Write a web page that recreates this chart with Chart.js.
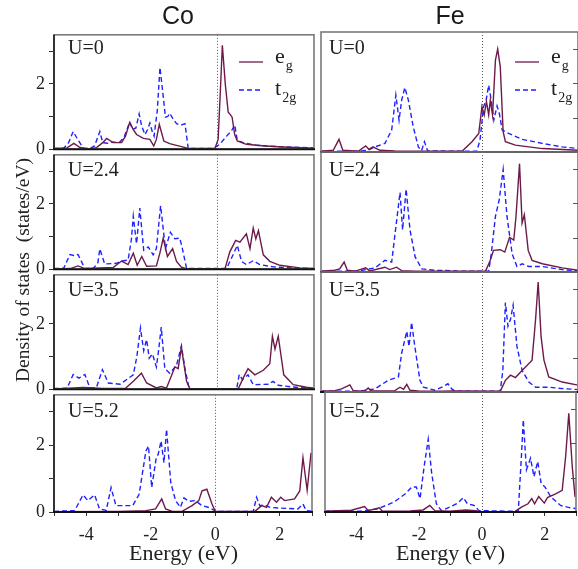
<!DOCTYPE html>
<html><head><meta charset="utf-8">
<script src="https://cdn.jsdelivr.net/npm/chart.js@4/dist/chart.umd.min.js"></script>
<style>
html,body{margin:0;padding:0;background:#fff;width:578px;height:569px;overflow:hidden;position:relative}
canvas{position:absolute}
#txt{position:absolute;left:0;top:0;z-index:5}
</style></head><body>
<svg id="txt" width="578" height="569" xmlns="http://www.w3.org/2000/svg"></svg>
<script>
// ---------- data (energy eV, DOS states/eV) ----------
const columns = ['Co', 'Fe'];
const uLabels = ['U=0', 'U=2.4', 'U=3.5', 'U=5.2'];
const xTickLabels = [-4, -2, 0, 2];
const yTickLabels = [0, 2];
const xRange = [-5, 3];
const yRange = [0, 3.5];

const coU0Eg = [[-5,0.02],[-4.6,0.04],[-4.39,0.18],[-4.2,0.05],[-3.9,0.01],[-3.69,0.05],[-3.5,0.2],[-3.38,0.33],[-3.18,0.2],[-2.92,0.2],[-2.8,0.4],[-2.67,0.82],[-2.56,0.6],[-2.46,0.45],[-2.25,0.33],[-2.05,0.3],[-1.93,0.1],[-1.85,0.3],[-1.76,0.76],[-1.62,0.25],[-1.44,0.17],[-1.08,0.08],[-0.87,0.02],[-0.05,0.02],[0.05,0.3],[0.12,1.8],[0.18,3.18],[0.27,2.0],[0.36,1.13],[0.41,1.08],[0.48,0.98],[0.56,0.45],[0.64,0.25],[0.92,0.15],[1.5,0.1],[2.2,0.06],[3,0.03]];
const coU0T2g = [[-5,0.02],[-4.7,0.03],[-4.55,0.2],[-4.41,0.54],[-4.3,0.35],[-4.1,0.03],[-3.9,0.02],[-3.75,0.1],[-3.59,0.54],[-3.5,0.2],[-3.35,0.18],[-3.2,0.22],[-3.0,0.2],[-2.85,0.35],[-2.67,0.83],[-2.58,0.6],[-2.48,0.65],[-2.38,1.08],[-2.3,0.7],[-2.2,0.45],[-2.12,0.6],[-2.05,0.8],[-1.98,0.55],[-1.92,0.4],[-1.82,1.2],[-1.74,2.5],[-1.66,1.8],[-1.57,0.98],[-1.5,1.0],[-1.44,1.1],[-1.35,0.95],[-1.23,0.78],[-1.15,0.75],[-1.08,0.74],[-0.97,0.78],[-0.87,0.02],[-0.1,0.02],[0.1,0.15],[0.31,0.4],[0.46,0.56],[0.56,0.74],[0.64,0.27],[0.82,0.2],[1.2,0.12],[2,0.07],[3,0.04]];

const coU24Eg = [[-5,0.01],[-4.5,0.02],[-4.26,0.1],[-4.05,0.02],[-3.18,0.05],[-2.92,0.25],[-2.72,0.14],[-2.56,0.49],[-2.44,0.12],[-2.3,0.39],[-2.15,0.09],[-1.85,0.1],[-1.74,0.5],[-1.64,0.95],[-1.51,0.39],[-1.35,0.63],[-1.23,0.24],[-1.08,0.06],[-0.92,0.01],[0.26,0.01],[0.41,0.53],[0.59,0.88],[0.72,0.83],[0.92,1.08],[1.03,0.63],[1.13,1.26],[1.21,0.93],[1.29,1.18],[1.44,0.44],[1.64,0.24],[1.95,0.12],[2.56,0.04],[3,0.02]];
const coU24T2g = [[-5,0.02],[-4.7,0.03],[-4.51,0.45],[-4.39,0.42],[-4.26,0.45],[-4.05,0.02],[-3.79,0.02],[-3.65,0.2],[-3.59,0.62],[-3.44,0.16],[-3.08,0.18],[-2.9,0.25],[-2.72,0.28],[-2.62,0.9],[-2.56,1.62],[-2.46,0.78],[-2.36,1.87],[-2.24,0.58],[-2.1,0.68],[-1.95,0.44],[-1.85,0.63],[-1.72,1.94],[-1.57,0.63],[-1.42,1.13],[-1.28,0.93],[-1.13,0.95],[-1.05,0.63],[-0.92,0.02],[0.31,0.02],[0.51,0.44],[0.64,0.73],[0.77,0.24],[0.92,0.14],[1.13,0.26],[1.33,0.14],[1.74,0.07],[2.5,0.03],[3,0.02]];

const coU35Eg = [[-5,0.01],[-4.1,0.05],[-3.5,0.02],[-2.8,0.03],[-2.56,0.24],[-2.31,0.49],[-2.15,0.19],[-1.85,0.04],[-1.7,0.08],[-1.54,0.03],[-1.28,0.68],[-1.18,0.63],[-1.08,1.28],[-0.92,0.24],[-0.82,0.01],[0.67,0.01],[0.82,0.34],[0.97,0.63],[1.18,0.44],[1.44,0.58],[1.64,0.78],[1.72,1.62],[1.8,1.23],[1.9,1.62],[2.07,0.44],[2.36,0.14],[2.77,0.06],[3,0.03]];
const coU35T2g = [[-5,0.02],[-4.6,0.03],[-4.41,0.45],[-4.23,0.34],[-4.05,0.45],[-3.9,0.05],[-3.7,0.03],[-3.51,0.6],[-3.33,0.19],[-2.97,0.15],[-2.56,0.44],[-2.45,1.0],[-2.34,1.87],[-2.24,1.18],[-2.15,1.52],[-2.07,0.95],[-1.97,1.08],[-1.85,0.68],[-1.78,1.2],[-1.7,1.9],[-1.59,0.63],[-1.44,0.49],[-1.23,0.73],[-1.08,1.33],[-0.97,0.63],[-0.84,0.01],[0.62,0.01],[0.7,0.45],[0.8,0.29],[0.97,0.44],[1.13,0.14],[1.6,0.15],[1.74,0.24],[1.9,0.12],[2.5,0.05],[3,0.02]];

const coU52Eg = [[-5,0.01],[-3,0.02],[-2.15,0.04],[-1.85,0.09],[-1.66,0.39],[-1.54,0.09],[-1.33,0.02],[-1.03,0.02],[-0.72,0.19],[-0.51,0.34],[-0.41,0.63],[-0.26,0.68],[-0.1,0.24],[0,0.02],[1.23,0.02],[1.44,0.19],[1.59,0.14],[1.74,0.44],[1.9,0.29],[2.03,0.44],[2.15,0.34],[2.46,0.39],[2.62,0.63],[2.72,1.62],[2.85,0.65],[2.97,1.77]];
const coU52T2g = [[-5,0.02],[-4.36,0.04],[-4.1,0.51],[-3.95,0.34],[-3.74,0.51],[-3.59,0.09],[-3.38,0.05],[-3.23,0.73],[-3.08,0.19],[-2.56,0.19],[-2.36,0.53],[-2.15,1.82],[-2.07,1.97],[-1.97,0.73],[-1.83,1.62],[-1.77,1.72],[-1.68,2.12],[-1.59,1.47],[-1.51,2.47],[-1.38,0.88],[-1.23,0.34],[-1.08,0.14],[-0.97,0.42],[-0.82,0.32],[-0.62,0.34],[-0.41,0.19],[-0.15,0.12],[0,0.02],[1.18,0.02],[1.28,0.44],[1.38,0.19],[1.54,0.21],[1.69,0.14],[1.95,0.12],[2.56,0.09],[2.72,0.24],[2.82,0.04],[3,0.02]];

const feU0Eg = [[-5,0.02],[-4.62,0.05],[-4.44,0.37],[-4.32,0.05],[-3.84,0.02],[-3.61,0.18],[-3.51,0.08],[-3.38,0.15],[-3.17,0.05],[-2.7,0.03],[-0.61,0.02],[-0.3,0.3],[-0.09,0.54],[0.01,1.32],[0.08,1.08],[0.15,1.47],[0.22,1.08],[0.27,1.51],[0.34,1.08],[0.43,2.68],[0.5,3.0],[0.58,2.49],[0.67,0.59],[0.74,0.3],[1.05,0.2],[1.89,0.1],[3,0.05]];
const feU0T2g = [[-5,0.02],[-3.84,0.02],[-3.53,0.05],[-3.32,0.15],[-3.01,0.25],[-2.8,0.64],[-2.67,1.66],[-2.57,0.93],[-2.49,1.51],[-2.39,1.88],[-2.28,1.51],[-2.13,0.74],[-1.97,0.15],[-1.87,0.04],[-1.78,0.3],[-1.68,0.03],[-0.15,0.02],[-0.05,0.35],[0.06,1.32],[0.14,1.51],[0.22,1.95],[0.3,1.51],[0.38,0.93],[0.48,1.34],[0.55,1.13],[0.64,0.64],[0.84,0.54],[1.26,0.37],[1.89,0.25],[2.51,0.15],[3,0.1]];

const feU24Eg = [[-5,0.02],[-4.57,0.05],[-4.42,0.09],[-4.28,0.29],[-4.18,0.05],[-3.95,0.02],[-3.61,0.12],[-3.48,0.03],[-3.01,0.14],[-2.86,0.07],[-2.65,0.14],[-2.49,0.04],[-2.07,0.02],[0.12,0.02],[0.27,0.34],[0.37,0.63],[0.58,0.65],[0.72,0.58],[0.87,1.01],[1.0,0.93],[1.07,1.62],[1.18,3.16],[1.26,1.43],[1.33,1.67],[1.45,0.63],[1.57,0.34],[1.89,0.24],[2.51,0.12],[3,0.05]];
const feU24T2g = [[-5,0.02],[-3.84,0.03],[-3.32,0.12],[-3.01,0.34],[-2.8,0.29],[-2.68,1.23],[-2.54,2.32],[-2.46,1.23],[-2.35,2.42],[-2.23,1.23],[-2.07,0.44],[-1.86,0.09],[-1.45,0.05],[-0.93,0.04],[-0.72,0.02],[0.22,0.02],[0.3,0.53],[0.43,1.62],[0.55,2.12],[0.67,2.99],[0.79,1.62],[0.95,0.53],[1.1,0.16],[1.26,0.24],[1.47,0.16],[1.89,0.16],[2.51,0.07],[3,0.03]];

const feU35Eg = [[-5,0.02],[-4.57,0.04],[-4.36,0.09],[-4.1,0.21],[-4.0,0.04],[-3.64,0.02],[-3.53,0.12],[-3.43,0.03],[-2.7,0.04],[-2.54,0.14],[-2.43,0.08],[-2.33,0.22],[-2.23,0.05],[-1.97,0.03],[-1.24,0.02],[-0.93,0.03],[0.58,0.02],[0.74,0.34],[0.9,0.49],[1.05,0.42],[1.26,0.63],[1.42,0.78],[1.57,0.93],[1.68,2.12],[1.76,3.21],[1.85,1.62],[1.94,0.93],[2.09,0.44],[2.51,0.29],[3,0.2]];
const feU35T2g = [[-5,0.02],[-3.84,0.02],[-3.32,0.09],[-2.91,0.34],[-2.59,0.44],[-2.49,1.13],[-2.33,1.77],[-2.26,1.33],[-2.18,2.03],[-2.08,1.33],[-1.92,0.34],[-1.81,0.14],[-1.45,0.05],[-1.24,0.14],[-1.05,0.24],[-0.93,0.09],[-0.82,0.02],[0.58,0.02],[0.66,0.63],[0.74,2.61],[0.82,1.92],[0.9,2.12],[0.98,2.53],[1.1,1.33],[1.26,0.63],[1.47,0.29],[1.68,0.14],[2.09,0.14],[2.51,0.1],[3,0.07]];

const feU52Eg = [[-5,0.02],[-4.16,0.05],[-3.74,0.16],[-3.62,0.04],[-3.27,0.12],[-3.17,0.02],[-2.28,0.03],[-1.87,0.06],[-1.66,0.19],[-1.5,0.04],[-1.03,0.02],[-0.51,0.06],[-0.2,0.04],[-0.04,0.01],[1.05,0.01],[1.26,0.14],[1.47,0.24],[1.59,0.39],[1.68,0.24],[1.81,0.45],[1.99,0.26],[2.09,0.42],[2.35,0.53],[2.56,0.63],[2.67,1.62],[2.77,2.88],[2.88,1.33],[2.97,0.44]];
const feU52T2g = [[-5,0.02],[-3.84,0.02],[-3.32,0.09],[-2.8,0.29],[-2.44,0.53],[-2.23,0.73],[-2.09,0.73],[-1.97,0.39],[-1.84,1.33],[-1.71,2.12],[-1.6,1.13],[-1.45,0.24],[-1.29,0.04],[-1.03,0.14],[-0.77,0.26],[-0.59,0.42],[-0.46,0.24],[-0.25,0.19],[-0.09,0.04],[1.16,0.02],[1.26,1.62],[1.32,2.69],[1.42,1.23],[1.55,1.57],[1.66,1.03],[1.78,1.47],[1.89,0.83],[2.01,0.73],[2.2,0.44],[2.51,0.19],[2.82,0.12],[3,0.1]];

const egSeries = [[coU0Eg, coU24Eg, coU35Eg, coU52Eg], [feU0Eg, feU24Eg, feU35Eg, feU52Eg]];
const t2gSeries = [[coU0T2g, coU24T2g, coU35T2g, coU52T2g], [feU0T2g, feU24T2g, feU35T2g, feU52T2g]];

// ---------- layout / style ----------
const EG_COLOR = '#6d1a4b';
const T2G_COLOR = '#1f22ff';
const SERIF = '"Liberation Serif","Times New Roman",serif';
const SANS = '"Liberation Sans",Arial,sans-serif';
const colArea = [{x0: 54, x1: 314}, {x0: 321, x1: 578}];
const rowTops = [32, 152, 272, 392];
const rowH = 120;
const PAD = 12;

const panelPlugin = {
  id: 'panelFrame',
  beforeDatasetsDraw(chart, args, opts) {
    const {ctx, chartArea: a, scales: {x}} = chart;
    const px = Math.round(x.getPixelForValue(0)) + 0.5;
    ctx.save();
    ctx.strokeStyle = '#555';
    ctx.lineWidth = 1;
    ctx.setLineDash([1, 2]);
    ctx.beginPath(); ctx.moveTo(px, a.top); ctx.lineTo(px, a.bottom); ctx.stroke();
    ctx.restore();
  },
  afterDatasetsDraw(chart, args, opts) {
    const {ctx, chartArea: a, scales: {y}} = chart;
    ctx.save();
    ctx.strokeStyle = '#7a7a7a';
    ctx.lineWidth = 1.6;
    ctx.strokeRect(a.left, a.top, a.right - a.left, a.bottom - a.top);
    if (opts.col === 0) {
      ctx.strokeStyle = '#333';
      ctx.lineWidth = 2;
      ctx.beginPath(); ctx.moveTo(a.left, a.top); ctx.lineTo(a.left, a.bottom); ctx.stroke();
    } else {
      ctx.strokeStyle = '#555';
      ctx.lineWidth = 1;
      [1, 2, 3].forEach(v => {
        const py = Math.round(y.getPixelForValue(v)) + 0.5;
        ctx.beginPath(); ctx.moveTo(a.right - 5, py); ctx.lineTo(a.right, py); ctx.stroke();
      });
    }
    ctx.strokeStyle = '#111';
    ctx.lineWidth = 2;
    const py0 = y.getPixelForValue(0);
    ctx.beginPath(); ctx.moveTo(a.left - 1, py0); ctx.lineTo(a.right + 1, py0); ctx.stroke();
    ctx.restore();
  }
};

function intTicks(lo, hi) { const t = []; for (let v = Math.ceil(lo); v <= hi; v++) t.push({value: v}); return t; }

function makePanel(col, row) {
  const ca = colArea[col];
  const isBottom = row === 3;
  const yAxisW = col === 0 ? 54 : 0;
  const padL = col === 0 ? 0 : 4;
  const padR = 6;
  const xAxisH = isBottom ? 32 : 0;
  const areaW = ca.x1 - ca.x0;
  const cw = areaW + yAxisW + padL + padR;
  const ch = rowH + PAD + (isBottom ? xAxisH + 4 : PAD);
  const cv = document.createElement('canvas');
  cv.width = cw; cv.height = ch;
  cv.style.left = (ca.x0 - yAxisW - padL) + 'px';
  cv.style.top = (rowTops[row] - PAD) + 'px';
  cv.style.width = cw + 'px'; cv.style.height = ch + 'px';
  document.body.insertBefore(cv, document.getElementById('txt'));

  const xScale = isBottom ? {
    type: 'linear', min: xRange[0], max: xRange[1],
    afterBuildTicks: s => { s.ticks = intTicks(xRange[0], xRange[1]); },
    afterFit: s => { s.height = xAxisH; },
    grid: {drawOnChartArea: false, drawTicks: true, tickLength: 4, tickColor: '#333', tickWidth: 1},
    border: {display: false},
    ticks: {autoSkip: false, maxRotation: 0, padding: 8, color: '#222',
      font: {family: SERIF, size: 18},
      callback: v => xTickLabels.includes(v) ? String(v) : ''}
  } : {type: 'linear', min: xRange[0], max: xRange[1], display: false};

  const yScale = col === 0 ? {
    type: 'linear', min: yRange[0], max: yRange[1], position: 'left',
    afterBuildTicks: s => { s.ticks = intTicks(yRange[0], yRange[1]); },
    afterFit: s => { s.width = yAxisW; },
    grid: {drawOnChartArea: false, drawTicks: true, tickLength: 5, tickColor: '#333', tickWidth: 1},
    border: {display: false},
    ticks: {autoSkip: false, padding: 4, color: '#222',
      font: {family: SERIF, size: 18},
      callback: v => yTickLabels.includes(v) ? String(v) : ''}
  } : {type: 'linear', min: yRange[0], max: yRange[1], display: false};

  new Chart(cv, {
    type: 'line',
    data: {
      datasets: [
        {label: 'eg', data: egSeries[col][row], borderColor: EG_COLOR, borderWidth: 1.4,
         pointRadius: 0, tension: 0, fill: false},
        {label: 't2g', data: t2gSeries[col][row], borderColor: T2G_COLOR, borderWidth: 1.4,
         borderDash: [5, 3], pointRadius: 0, tension: 0, fill: false}
      ]
    },
    options: {
      responsive: false, animation: false, devicePixelRatio: 1, events: [],
      layout: {padding: {left: padL, right: padR, top: PAD, bottom: isBottom ? 4 : PAD}},
      scales: {x: xScale, y: yScale},
      plugins: {legend: {display: false}, tooltip: {enabled: false}, panelFrame: {col: col}}
    },
    plugins: [panelPlugin]
  });
}

for (let c = 0; c < 2; c++) for (let r = 0; r < 4; r++) makePanel(c, r);

// ---------- text overlay ----------
const NS = 'http://www.w3.org/2000/svg';
const svg = document.getElementById('txt');
function txt(str, x, y, size, family, anchor, extra) {
  const t = document.createElementNS(NS, 'text');
  t.setAttribute('x', x); t.setAttribute('y', y);
  t.setAttribute('font-size', size); t.setAttribute('font-family', family);
  t.setAttribute('fill', '#222');
  if (anchor) t.setAttribute('text-anchor', anchor);
  if (extra) for (const k in extra) t.setAttribute(k, extra[k]);
  t.textContent = str;
  svg.appendChild(t);
  return t;
}
function subTxt(main, sub, x, y, size, subSize, dy) {
  const t = txt(main, x, y, size, SERIF);
  const s = document.createElementNS(NS, 'tspan');
  s.setAttribute('font-size', subSize); s.setAttribute('dy', dy);
  s.setAttribute('dx', 1);
  s.textContent = sub;
  t.appendChild(s);
}
function line(x1, y1, x2, y2, color, dash) {
  const l = document.createElementNS(NS, 'line');
  l.setAttribute('x1', x1); l.setAttribute('y1', y1); l.setAttribute('x2', x2); l.setAttribute('y2', y2);
  l.setAttribute('stroke', color); l.setAttribute('stroke-width', 1.3);
  if (dash) l.setAttribute('stroke-dasharray', dash);
  svg.appendChild(l);
}

const titleX = [178, 450];
const uX = [68, 329];
const uY = [54, 176, 296, 417];
const legX = [239, 515];
const eX = [183.5, 450.5];
columns.forEach((name, c) => {
  txt(name, titleX[c], 24, 25, SANS, 'middle', {fill: '#1a1a1a'});
  uLabels.forEach((u, r) => txt(u, uX[c], uY[r], 20, SERIF));
  line(legX[c], 62, legX[c] + 24, 62, EG_COLOR);
  line(legX[c], 90, legX[c] + 24, 90, T2G_COLOR, '5,3');
  subTxt('e', 'g', legX[c] + 36, 63, 22, 14, 7);
  subTxt('t', '2g', legX[c] + 36, 95, 22, 14, 7);
  txt('Energy (eV)', eX[c], 560, 22, SERIF, 'middle');
});
txt('Density of states  (states/eV)', 29, 270, 19.5, SERIF, 'middle',
    {transform: 'rotate(-90 29 270)', style: 'white-space:pre'});
</script>
</body></html>
